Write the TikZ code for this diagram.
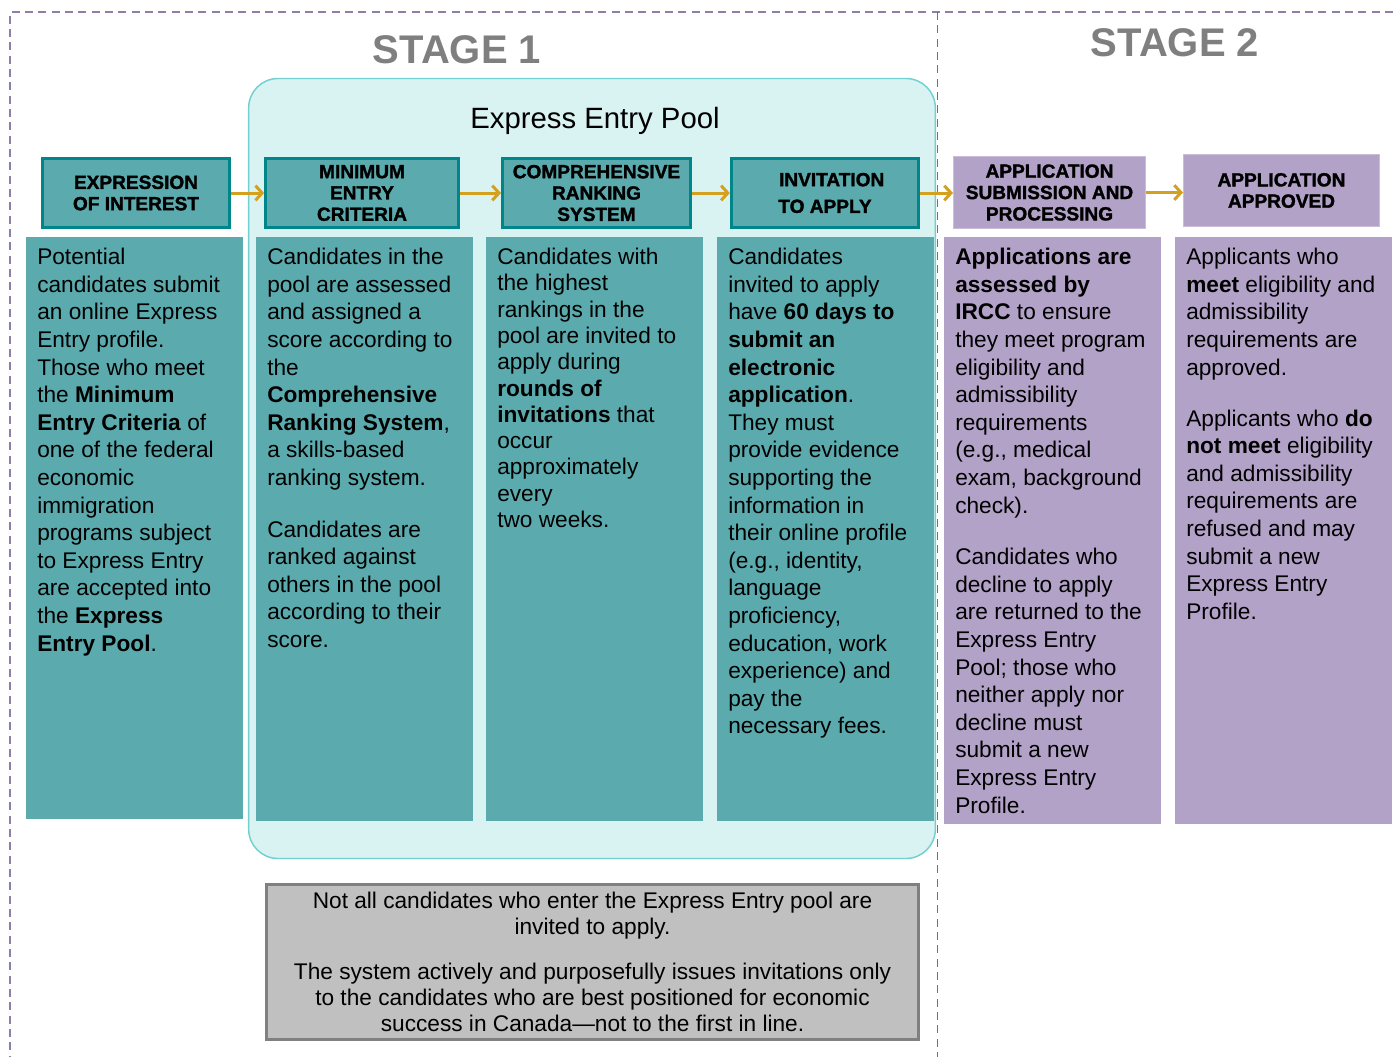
\documentclass[tikz,border=0pt]{standalone}
\usepackage{fontspec}
\setmainfont{Liberation Sans}
\newfontfamily\heavyfont{Liberation Sans Bold}[FakeBold=1.6]
\usetikzlibrary{arrows.meta}

\definecolor{tealfill}{HTML}{5BABAE}
\definecolor{tealline}{HTML}{00868A}
\definecolor{poolfill}{HTML}{D9F2F2}
\definecolor{poolline}{HTML}{74D0D0}
\definecolor{lilac}{HTML}{B3A2C8}
\definecolor{lilacline}{HTML}{C9BDDA}
\definecolor{gold}{HTML}{D4A020}
\definecolor{framelilac}{HTML}{8E7FAA}
\definecolor{notefill}{HTML}{C0C0C0}
\definecolor{noteline}{HTML}{808080}
\definecolor{stagegray}{HTML}{7F7F7F}

\newcommand\hdfont{\fontsize{14.3}{16}\selectfont\heavyfont}
\newcommand\bdfont{\fontsize{17}{20.7}\selectfont}

\tikzset{
  stagelabel/.style={text=stagegray,font=\fontsize{30}{30}\selectfont\bfseries},
  pool/.style={draw=poolline,line width=1.1pt,fill=poolfill,rounded corners=22pt,
    minimum width=515pt,minimum height=585pt},
  tealhead/.style={draw=tealline,line width=2.25pt,fill=tealfill,align=center,
    font=\hdfont,minimum width=140.5pt,minimum height=51.75pt,inner sep=2pt},
  lilachead/.style={draw=lilacline,line width=0.75pt,fill=lilac,align=center,
    font=\hdfont,minimum width=144pt,minimum height=54pt,inner sep=2pt},
  bodybox/.style={anchor=north west,inner sep=0pt,minimum width=162.5pt,minimum height=438pt},
  bodytext/.style={anchor=north west,inner sep=0pt,align=left,font=\bdfont},
  flow/.style={draw=gold,line width=2.25pt,-{Straight Barb[length=5pt,width=11pt]}},
  note/.style={draw=noteline,line width=2pt,fill=notefill,align=center,
    font=\fontsize{17}{19.5}\selectfont,minimum width=489pt,minimum height=116.5pt},
  framedash/.style={draw=framelilac,line width=0.9pt,dash pattern=on 6pt off 4pt}
}

\begin{document}
\begin{tikzpicture}[x=0.75pt,y=-0.75pt]
  \useasboundingbox (0,0) rectangle (1393,1057);

  \draw[framedash] (1393,12) -- (10,12) -- (10,1057);

  \node[pool] (pool) at (592,468.5) {};
  \node[font=\fontsize{22}{22}\selectfont,anchor=base] (poollabel) at (595,128) {Express Entry Pool};

  \draw[framedash,draw=framelilac!85!black] (937.5,12) -- (937.5,1057);

  \node[stagelabel] (stage1) at (457,50) {STAGE 1};
  \node[stagelabel] (stage2) at (1175,43) {STAGE 2};

  % step headers
  \node[tealhead] (eoi) at (136,193) {EXPRESSION\\OF INTEREST};
  \node[tealhead,minimum width=144.5pt] (mec) at (362,193) {MINIMUM\\ENTRY\\CRITERIA};
  \node[tealhead,minimum width=141pt] (crs) at (596.5,193) {COMPREHENSIVE\\RANKING\\SYSTEM};
  \node[tealhead,font=\fontsize{14.3}{20}\selectfont\heavyfont] (ita) at (825,193) {\hspace*{10pt}INVITATION\\TO APPLY};
  \node[lilachead] (asp) at (1049.5,192.5) {APPLICATION\\SUBMISSION AND\\PROCESSING};
  \node[lilachead,minimum width=147pt] (aa) at (1281.5,190.5) {APPLICATION\\APPROVED};

  \draw[flow] (eoi) -- (mec);
  \draw[flow] (mec) -- (crs);
  \draw[flow] (crs) -- (ita);
  \draw[flow] (ita.east) -- (ita.east -| asp.west);
  \draw[flow] (asp.east) -- (asp.east -| aa.west);

  % step descriptions
  \node[bodybox,fill=tealfill,minimum height=436.5pt] (eoibox) at (26,237) {};
  \node[bodybox,fill=tealfill] (mecbox) at (256,237) {};
  \node[bodybox,fill=tealfill] (crsbox) at (486,237) {};
  \node[bodybox,fill=tealfill] (itabox) at (717,237) {};
  \node[bodybox,fill=lilac,minimum height=440pt] (aspbox) at (944,237) {};
  \node[bodybox,fill=lilac,minimum height=440pt] (aabox) at (1175,237) {};

  \node[bodytext] (eoitext) at (37,248) {Potential\\candidates submit\\an online Express\\Entry profile.\\Those who meet\\the \textbf{Minimum}\\\textbf{Entry Criteria} of\\one of the federal\\economic\\immigration\\programs subject\\to Express Entry\\are accepted into\\the \textbf{Express}\\\textbf{Entry Pool}.};
  \node[bodytext] (mectext) at (267,248) {Candidates in the\\pool are assessed\\and assigned a\\score according to\\the\\\textbf{Comprehensive}\\\textbf{Ranking System},\\a skills-based\\ranking system.\\[18pt]Candidates are\\ranked against\\others in the pool\\according to their\\score.};
  \node[bodytext,font=\fontsize{17}{19.7}\selectfont] (crstext) at (497,248) {Candidates with\\the highest\\rankings in the\\pool are invited to\\apply during\\\textbf{rounds of}\\\textbf{invitations} that\\occur\\approximately\\every\\two weeks.};
  \node[bodytext] (itatext) at (728,248) {Candidates\\invited to apply\\have \textbf{60 days to}\\\textbf{submit an}\\\textbf{electronic}\\\textbf{application}.\\They must\\provide evidence\\supporting the\\information in\\their online profile\\(e.g., identity,\\language\\proficiency,\\education, work\\experience) and\\pay the\\necessary fees.};
  \node[bodytext] (asptext) at (955,248) {\textbf{Applications are}\\\textbf{assessed by}\\\textbf{IRCC} to ensure\\they meet program\\eligibility and\\admissibility\\requirements\\(e.g., medical\\exam, background\\check).\\[18pt]Candidates who\\decline to apply\\are returned to the\\Express Entry\\Pool; those who\\neither apply nor\\decline must\\submit a new\\Express Entry\\Profile.};
  \node[bodytext] (aatext) at (1186,248) {Applicants who\\\textbf{meet} eligibility and\\admissibility\\requirements are\\approved.\\[17.5pt]Applicants who \textbf{do}\\\textbf{not meet} eligibility\\and admissibility\\requirements are\\refused and may\\submit a new\\Express Entry\\Profile.};

  \node[note] (note) at (592.5,962) {Not all candidates who enter the Express Entry pool are\\invited to apply.\\[14pt]The system actively and purposefully issues invitations only\\to the candidates who are best positioned for economic\\success in Canada---not to the first in line.};
\end{tikzpicture}
\end{document}
